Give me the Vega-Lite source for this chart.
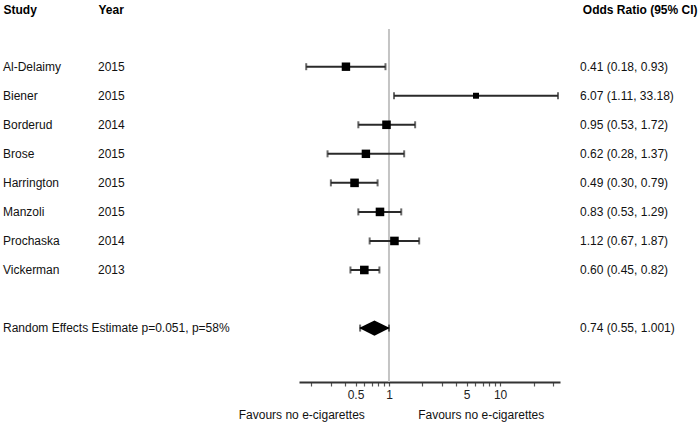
{
  "$schema": "https://vega.github.io/schema/vega-lite/v6.json",
  "width": 700,
  "height": 353,
  "autosize": {"type": "none"},
  "padding": {"left": 0, "top": 29, "right": 0, "bottom": 42},
  "background": "white",
  "config": {"font": "Liberation Sans", "view": {"stroke": null}},
  "data": {
    "values": [
      {"row": 1, "kind": "study", "Study": "Al-Delaimy", "Year": "2015", "or": 0.41, "lower": 0.18, "upper": 0.93, "weight": 14, "Odds Ratio (95% CI)": "0.41 (0.18, 0.93)"},
      {"row": 2, "kind": "study", "Study": "Biener", "Year": "2015", "or": 6.07, "lower": 1.11, "upper": 33.18, "weight": 7, "Odds Ratio (95% CI)": "6.07 (1.11, 33.18)"},
      {"row": 3, "kind": "study", "Study": "Borderud", "Year": "2014", "or": 0.95, "lower": 0.53, "upper": 1.72, "weight": 14.5, "Odds Ratio (95% CI)": "0.95 (0.53, 1.72)"},
      {"row": 4, "kind": "study", "Study": "Brose", "Year": "2015", "or": 0.62, "lower": 0.28, "upper": 1.37, "weight": 14, "Odds Ratio (95% CI)": "0.62 (0.28, 1.37)"},
      {"row": 5, "kind": "study", "Study": "Harrington", "Year": "2015", "or": 0.49, "lower": 0.30, "upper": 0.79, "weight": 14.5, "Odds Ratio (95% CI)": "0.49 (0.30, 0.79)"},
      {"row": 6, "kind": "study", "Study": "Manzoli", "Year": "2015", "or": 0.83, "lower": 0.53, "upper": 1.29, "weight": 14.5, "Odds Ratio (95% CI)": "0.83 (0.53, 1.29)"},
      {"row": 7, "kind": "study", "Study": "Prochaska", "Year": "2014", "or": 1.12, "lower": 0.67, "upper": 1.87, "weight": 14.5, "Odds Ratio (95% CI)": "1.12 (0.67, 1.87)"},
      {"row": 8, "kind": "study", "Study": "Vickerman", "Year": "2013", "or": 0.60, "lower": 0.45, "upper": 0.82, "weight": 14.5, "Odds Ratio (95% CI)": "0.60 (0.45, 0.82)"},
      {"row": 10, "kind": "summary", "Study": "Random Effects Estimate p=0.051, p=58%", "Year": "", "or": 0.74, "lower": 0.55, "upper": 1.001, "weight": 0, "Odds Ratio (95% CI)": "0.74 (0.55, 1.001)"}
    ]
  },
  "layer": [
    {
      "transform": [{"fold": ["Study", "Year"], "as": ["col", "txt"]}],
      "mark": {"type": "text", "align": "left", "baseline": "middle", "fontSize": 12, "color": "#111"},
      "encoding": {
        "x": {
          "field": "col", "type": "nominal",
          "scale": {"type": "point", "domain": ["Study", "Year"], "range": [3, 98], "padding": 0},
          "axis": {"orient": "top", "title": null, "domain": false, "ticks": false, "tickSize": 0, "grid": false, "labelPadding": 16, "labelFontSize": 12, "labelFontWeight": "bold", "labelAlign": "left", "labelBaseline": "alphabetic", "labelColor": "#000", "labelAngle": 0}
        },
        "y": {"field": "row", "type": "quantitative", "scale": {"domain": [-0.298, 11.857], "reverse": true, "nice": false, "zero": false}, "axis": null},
        "text": {"field": "txt"}
      }
    },
    {
      "transform": [{"fold": ["Odds Ratio (95% CI)"], "as": ["col", "txt"]}],
      "mark": {"type": "text", "align": "left", "baseline": "middle", "fontSize": 12, "color": "#111"},
      "encoding": {
        "x": {
          "field": "col", "type": "nominal",
          "scale": {"type": "point", "domain": ["Odds Ratio (95% CI)"], "range": [580, 700], "padding": 0, "align": 0},
          "axis": {"orient": "top", "title": null, "domain": false, "ticks": false, "tickSize": 0, "grid": false, "labelPadding": 16, "labelFontSize": 12, "labelFontWeight": "bold", "labelAlign": "right", "labelOffset": 117, "labelBaseline": "alphabetic", "labelColor": "#000", "labelAngle": 0}
        },
        "y": {"field": "row", "type": "quantitative", "scale": {"domain": [-0.298, 11.857], "reverse": true, "nice": false, "zero": false}, "axis": null},
        "text": {"field": "txt"}
      }
    },
    {
      "layer": [
        {
          "data": {"values": [{"ref": 1}]},
          "mark": {"type": "rule", "color": "#c4c4c4", "strokeWidth": 2},
          "encoding": {
            "x": {
              "field": "ref", "type": "quantitative",
              "scale": {"type": "log", "domain": [0.155, 34.6], "range": [299, 560], "nice": false, "zero": false},
              "axis": {
                "orient": "bottom",
                "values": [0.2, 0.3, 0.4, 0.5, 0.6, 0.7, 0.8, 0.9, 1, 2, 3, 4, 5, 6, 7, 8, 9, 10, 20, 30],
                "labelExpr": "datum.value == 0.5 ? '0.5' : datum.value == 1 ? '1' : datum.value == 5 ? '5' : datum.value == 10 ? '10' : ''",
                "grid": false,
                "domainColor": "#333",
                "domainWidth": 2,
                "tickColor": "#555",
                "tickWidth": 1.2,
                "tickSize": 4,
                "labelPadding": 3,
                "labelFontSize": 12,
                "labelColor": "#222",
                "labelFlush": false,
                "labelOverlap": false,
                "title": "Favours no e-cigarettes\u00a0\u00a0\u00a0\u00a0\u00a0\u00a0\u00a0\u00a0\u00a0\u00a0\u00a0\u00a0\u00a0\u00a0\u00a0\u00a0Favours no e-cigarettes",
                "titleX": 391,
                "titleY": 36,
                "titleAlign": "center",
                "titleBaseline": "alphabetic",
                "titleFontSize": 12,
                "titleFontWeight": "normal",
                "titleColor": "#111"
              }
            }
          }
        },
        {
          "mark": {"type": "rule", "color": "#2a2a2a", "strokeWidth": 2},
          "encoding": {
            "x": {"field": "lower", "type": "quantitative"},
            "x2": {"field": "upper"},
            "y": {"field": "row", "type": "quantitative", "scale": {"domain": [-0.298, 11.857], "reverse": true, "nice": false, "zero": false}, "axis": null}
          }
        },
        {
          "mark": {"type": "tick", "orient": "vertical", "color": "#2a2a2a", "size": 7, "thickness": 2},
          "encoding": {
            "x": {"field": "lower", "type": "quantitative"},
            "y": {"field": "row", "type": "quantitative", "scale": {"domain": [-0.298, 11.857], "reverse": true, "nice": false, "zero": false}, "axis": null}
          }
        },
        {
          "mark": {"type": "tick", "orient": "vertical", "color": "#2a2a2a", "size": 7, "thickness": 2},
          "encoding": {
            "x": {"field": "upper", "type": "quantitative"},
            "y": {"field": "row", "type": "quantitative", "scale": {"domain": [-0.298, 11.857], "reverse": true, "nice": false, "zero": false}, "axis": null}
          }
        },
        {
          "transform": [{"filter": "datum.kind == 'study'"}],
          "mark": {"type": "point", "shape": "square", "filled": true, "color": "#000", "opacity": 1},
          "encoding": {
            "x": {"field": "or", "type": "quantitative"},
            "y": {"field": "row", "type": "quantitative", "scale": {"domain": [-0.298, 11.857], "reverse": true, "nice": false, "zero": false}, "axis": null},
            "size": {"field": "weight", "type": "quantitative", "scale": {"domain": [0, 15], "range": [0, 76]}, "legend": null}
          }
        },
        {
          "transform": [{"filter": "datum.kind == 'summary'"}],
          "mark": {"type": "point", "shape": "M-1,0L0,-0.5L1,0L0,0.5Z", "filled": true, "color": "#000", "opacity": 1, "size": 940},
          "encoding": {
            "x": {"field": "or", "type": "quantitative"},
            "y": {"field": "row", "type": "quantitative", "scale": {"domain": [-0.298, 11.857], "reverse": true, "nice": false, "zero": false}, "axis": null}
          }
        }
      ]
    }
  ],
  "resolve": {"scale": {"x": "independent"}, "axis": {"x": "independent"}}
}
